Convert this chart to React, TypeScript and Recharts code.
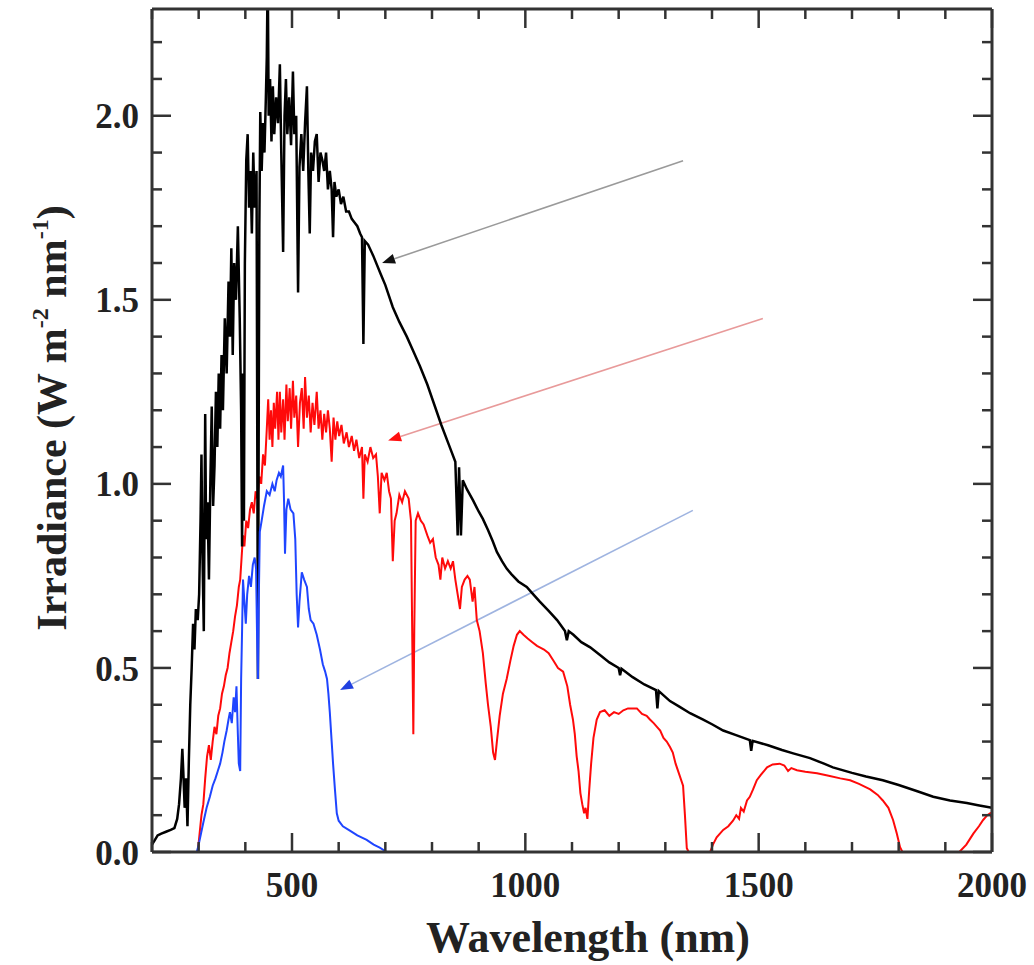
import { LineChart, Line, XAxis, YAxis, ReferenceLine } from "recharts";

// wavelength (nm), irradiance (W m-2 nm-1)
const black: [number, number][] = [
  [200, 0.02], [205, 0.03], [212, 0.045], [220, 0.05], [230, 0.055], [240, 0.06], [248, 0.065],
  [254, 0.09], [258, 0.13], [262, 0.2], [265, 0.28], [267, 0.22], [270, 0.12], [273, 0.2],
  [276, 0.07], [279, 0.25], [282, 0.4], [285, 0.5], [288, 0.62], [291, 0.55], [294, 0.66],
  [298, 0.63], [301, 0.7], [304, 0.9], [306, 1.08], [308, 0.82], [311, 0.6], [314, 1.19],
  [316, 0.85], [319, 0.95], [322, 0.74], [325, 1.0], [328, 1.21], [331, 0.94], [334, 1.05],
  [337, 1.25], [340, 1.1], [343, 1.3], [346, 1.15], [349, 1.35], [352, 1.2], [356, 1.45],
  [360, 1.3], [364, 1.55], [367, 1.4], [370, 1.64], [373, 1.35], [376, 1.6], [380, 1.5],
  [384, 1.7], [388, 1.45], [391, 1.2], [393, 0.83], [395, 1.3], [397, 0.9], [399, 1.6],
  [402, 1.88], [405, 1.95], [408, 1.75], [411, 1.85], [414, 1.68], [417, 1.9], [420, 1.75],
  [424, 1.85], [427, 0.47], [430, 1.7], [432, 2.01], [435, 1.85], [438, 1.98], [441, 1.9],
  [444, 2.05], [446, 2.16], [448, 2.4], [450, 2.0], [453, 2.1], [456, 1.93], [459, 2.08],
  [462, 1.95], [466, 2.05], [470, 1.98], [474, 2.14], [477, 1.9], [481, 1.63], [484, 2.0],
  [487, 2.1], [490, 1.95], [494, 2.05], [498, 1.92], [502, 2.12], [505, 1.95], [509, 2.0],
  [513, 1.52], [516, 1.86], [520, 1.95], [524, 1.85], [528, 1.98], [532, 2.08], [535, 1.85],
  [538, 1.68], [541, 1.9], [545, 1.85], [549, 1.93], [553, 1.95], [557, 1.82], [561, 1.9],
  [565, 1.88], [569, 1.85], [573, 1.9], [577, 1.8], [581, 1.85], [585, 1.8], [588, 1.67],
  [591, 1.82], [595, 1.78], [600, 1.8], [605, 1.76], [610, 1.78], [616, 1.74], [622, 1.74],
  [628, 1.72], [634, 1.71], [640, 1.7], [646, 1.68], [650, 1.67], [653, 1.38], [656, 1.66],
  [663, 1.65], [674, 1.62], [690, 1.57], [700, 1.54], [716, 1.48], [730, 1.44], [746, 1.4],
  [760, 1.36], [774, 1.32], [790, 1.27], [805, 1.215], [820, 1.16], [835, 1.11], [850, 1.06],
  [855, 0.86], [858, 1.045], [862, 0.86], [866, 1.01], [875, 0.985], [888, 0.955], [900, 0.925],
  [909, 0.905], [920, 0.875], [930, 0.845], [939, 0.815], [950, 0.79], [960, 0.77], [970, 0.755],
  [985, 0.735], [1003, 0.72], [1017, 0.7], [1031, 0.68], [1050, 0.655], [1068, 0.63],
  [1085, 0.6], [1089, 0.575], [1093, 0.6], [1103, 0.59], [1120, 0.57], [1139, 0.556],
  [1160, 0.535], [1180, 0.515], [1200, 0.5], [1203, 0.48], [1206, 0.498], [1230, 0.475],
  [1255, 0.455], [1280, 0.44], [1283, 0.39], [1286, 0.437], [1310, 0.41], [1330, 0.395],
  [1353, 0.377], [1380, 0.36], [1400, 0.347], [1424, 0.33], [1450, 0.318], [1481, 0.304],
  [1484, 0.275], [1487, 0.302], [1520, 0.29], [1550, 0.277], [1574, 0.268], [1610, 0.255],
  [1640, 0.24], [1659, 0.23], [1700, 0.215], [1730, 0.205], [1766, 0.195], [1800, 0.182],
  [1840, 0.165], [1874, 0.15], [1910, 0.14], [1946, 0.133], [1970, 0.127], [2000, 0.12],
];

const red: [number, number][] = [
  [298, 0], [302, 0.05], [306, 0.1], [310, 0.13], [314, 0.2], [318, 0.26], [322, 0.29],
  [326, 0.25], [330, 0.3], [334, 0.34], [338, 0.32], [342, 0.37], [346, 0.39], [350, 0.43],
  [354, 0.45], [358, 0.48], [362, 0.5], [366, 0.54], [370, 0.57], [374, 0.6], [378, 0.64],
  [382, 0.67], [386, 0.72], [389, 0.74], [392, 0.8], [395, 0.86], [398, 0.83], [402, 0.9],
  [406, 0.88], [410, 0.93], [414, 0.95], [418, 0.92], [422, 0.98], [426, 0.96], [430, 1.02],
  [434, 1.0], [438, 1.08], [442, 1.05], [446, 1.15], [449, 1.23], [452, 1.12], [455, 1.2],
  [458, 1.1], [461, 1.22], [464, 1.15], [468, 1.25], [471, 1.12], [474, 1.25], [477, 1.14],
  [481, 1.23], [484, 1.12], [488, 1.27], [491, 1.17], [495, 1.26], [498, 1.15], [502, 1.28],
  [505, 1.18], [509, 1.24], [513, 1.1], [517, 1.22], [521, 1.26], [525, 1.15], [528, 1.29],
  [532, 1.18], [536, 1.24], [540, 1.14], [544, 1.22], [548, 1.16], [553, 1.25], [557, 1.15],
  [561, 1.2], [565, 1.12], [569, 1.19], [573, 1.14], [577, 1.2], [581, 1.15], [585, 1.06],
  [589, 1.18], [593, 1.12], [597, 1.17], [601, 1.13], [606, 1.16], [611, 1.11], [617, 1.14],
  [622, 1.1], [628, 1.13], [633, 1.09], [638, 1.12], [644, 1.07], [650, 1.1], [653, 0.96],
  [656, 1.08], [662, 1.06], [668, 1.1], [674, 1.07], [680, 1.08], [684, 1.02], [688, 0.92],
  [692, 1.03], [698, 1.01], [703, 1.03], [708, 0.98], [712, 0.96], [716, 0.79], [720, 0.9],
  [724, 0.92], [730, 0.97], [736, 0.95], [742, 0.98], [750, 0.96], [755, 0.9], [758, 0.55],
  [760, 0.32], [762, 0.6], [765, 0.9], [770, 0.92], [776, 0.9], [782, 0.89], [790, 0.86],
  [796, 0.84], [802, 0.85], [808, 0.8], [814, 0.78], [818, 0.74], [822, 0.8], [828, 0.77],
  [834, 0.79], [840, 0.77], [845, 0.79], [850, 0.74], [855, 0.7], [860, 0.66], [864, 0.72],
  [870, 0.74], [876, 0.75], [881, 0.74], [887, 0.68], [891, 0.72], [896, 0.63], [902, 0.6],
  [909, 0.54], [915, 0.46], [920, 0.4], [926, 0.34], [931, 0.27], [935, 0.25], [939, 0.3],
  [945, 0.37], [952, 0.43], [960, 0.47], [968, 0.52], [975, 0.56], [982, 0.59], [988, 0.6],
  [996, 0.59], [1005, 0.58], [1015, 0.57], [1025, 0.56], [1031, 0.556], [1040, 0.55],
  [1050, 0.54], [1060, 0.52], [1070, 0.5], [1081, 0.49], [1090, 0.45], [1096, 0.4],
  [1102, 0.36], [1106, 0.32], [1110, 0.26], [1114, 0.22], [1118, 0.16], [1122, 0.13],
  [1126, 0.105], [1129, 0.12], [1133, 0.09], [1137, 0.17], [1141, 0.24], [1146, 0.31],
  [1153, 0.36], [1160, 0.38], [1170, 0.385], [1180, 0.37], [1190, 0.38], [1200, 0.375],
  [1210, 0.385], [1220, 0.39], [1230, 0.39], [1239, 0.39], [1250, 0.375], [1260, 0.37],
  [1267, 0.36], [1275, 0.35], [1282, 0.34], [1289, 0.33], [1296, 0.31], [1303, 0.3],
  [1310, 0.285], [1316, 0.27], [1322, 0.24], [1330, 0.21], [1338, 0.18], [1342, 0.1],
  [1346, 0.01], [1350, 0], [1396, 0], [1402, 0.02], [1410, 0.04], [1424, 0.06], [1435, 0.07],
  [1445, 0.085], [1452, 0.1], [1458, 0.09], [1462, 0.12], [1468, 0.11], [1475, 0.14],
  [1481, 0.15], [1488, 0.17], [1496, 0.195], [1505, 0.21], [1518, 0.23], [1530, 0.238],
  [1545, 0.24], [1555, 0.235], [1563, 0.22], [1570, 0.228], [1582, 0.222], [1600, 0.218],
  [1625, 0.214], [1650, 0.207], [1675, 0.2], [1696, 0.195], [1715, 0.185], [1739, 0.17],
  [1755, 0.155], [1766, 0.14], [1778, 0.12], [1788, 0.087], [1796, 0.05], [1803, 0.013],
  [1808, 0], [1930, 0], [1945, 0.02], [1960, 0.05], [1972, 0.07], [1981, 0.087], [1990, 0.1],
  [1996, 0.105], [2000, 0.09],
];

const blue: [number, number][] = [
  [296, 0], [300, 0.02], [305, 0.05], [310, 0.08], [317, 0.12], [324, 0.15], [330, 0.18],
  [336, 0.2], [341, 0.22], [346, 0.24], [351, 0.27], [355, 0.3], [360, 0.33], [364, 0.36],
  [367, 0.38], [371, 0.35], [375, 0.42], [378, 0.38], [381, 0.45], [384, 0.32], [386, 0.24],
  [389, 0.22], [391, 0.47], [393, 0.6], [395, 0.74], [398, 0.68], [401, 0.62], [404, 0.7],
  [408, 0.75], [412, 0.72], [416, 0.78], [420, 0.8], [423, 0.77], [425, 0.6], [427, 0.47],
  [429, 0.7], [431, 0.87], [435, 0.9], [440, 0.94], [446, 0.98], [452, 0.97], [458, 1.0],
  [463, 0.98], [467, 1.01], [472, 1.03], [476, 1.02], [481, 1.05], [483, 0.95], [485, 0.81],
  [488, 0.93], [492, 0.96], [497, 0.93], [503, 0.92], [507, 0.85], [510, 0.7], [513, 0.61],
  [516, 0.68], [521, 0.76], [526, 0.74], [532, 0.72], [536, 0.66], [540, 0.63], [546, 0.62],
  [553, 0.59], [560, 0.55], [566, 0.51], [571, 0.49], [575, 0.47], [578, 0.43], [581, 0.38],
  [585, 0.3], [588, 0.24], [592, 0.17], [596, 0.105], [600, 0.085], [609, 0.07], [624, 0.058],
  [640, 0.045], [660, 0.033], [675, 0.02], [688, 0.012], [703, 0],
];

// annotation arrows: [from wavelength, from value, to wavelength, to value]
const arrows: [number, number, number, number][] = [
  [1338, 1.878, 693, 1.6],
  [1509, 1.449, 706, 1.118],
  [1359, 0.928, 603, 0.44],
];

const xTicks = [200, 300, 400, 500, 600, 700, 800, 900, 1000, 1100, 1200, 1300, 1400, 1500, 1600, 1700, 1800, 1900, 2000];
const xMajor = [500, 1000, 1500, 2000];
const yTicks = [0, 0.1, 0.2, 0.3, 0.4, 0.5, 0.6, 0.7, 0.8, 0.9, 1.0, 1.1, 1.2, 1.3, 1.4, 1.5, 1.6, 1.7, 1.8, 1.9, 2.0, 2.1, 2.2];
const yMajor = [0, 0.5, 1.0, 1.5, 2.0];

const toRows = (d: [number, number][]) => d.map(([w, v]) => ({ w, v }));

const FONT = "'Liberation Serif', 'Times New Roman', serif";
const AXIS = "#333";

const isYMajor = (v: number) => yMajor.some((m) => Math.abs(m - v) < 1e-6);

const BottomTick = (p: any) => {
  const major = xMajor.includes(p.payload.value);
  return (
    <g>
      <line x1={p.x} x2={p.x} y1={p.y} y2={p.y - (major ? 19 : 10)} stroke={AXIS} strokeWidth={2.5} />
      {major && (
        <text x={p.x} y={p.y + 45} textAnchor="middle" fontFamily={FONT} fontWeight="bold" fontSize={35} fill="#222">
          {p.payload.value}
        </text>
      )}
    </g>
  );
};

const TopTick = (p: any) => {
  const major = xMajor.includes(p.payload.value);
  return <line x1={p.x} x2={p.x} y1={p.y} y2={p.y + (major ? 19 : 10)} stroke={AXIS} strokeWidth={2.5} />;
};

const LeftTick = (p: any) => {
  const major = isYMajor(p.payload.value);
  return (
    <g>
      <line x1={p.x} x2={p.x + (major ? 19 : 10)} y1={p.y} y2={p.y} stroke={AXIS} strokeWidth={2.5} />
      {major && (
        <text x={p.x - 13} y={p.y} dy="0.36em" textAnchor="end" fontFamily={FONT} fontWeight="bold" fontSize={35} fill="#222">
          {p.payload.value.toFixed(1)}
        </text>
      )}
    </g>
  );
};

const RightTick = (p: any) => {
  const major = isYMajor(p.payload.value);
  return <line x1={p.x} x2={p.x - (major ? 19 : 10)} y1={p.y} y2={p.y} stroke={AXIS} strokeWidth={2.5} />;
};

const XTitle = (p: any) => {
  const vb = p.viewBox;
  return (
    <text x={vb.x + vb.width / 2 + 16} y={952} textAnchor="middle" fontFamily={FONT} fontWeight="bold" fontSize={44} fill="#222">
      Wavelength (nm)
    </text>
  );
};

const YTitle = () => {
  const cx = 66;
  const cy = 418;
  return (
    <text x={cx} y={cy} transform={`rotate(-90, ${cx}, ${cy})`} textAnchor="middle" fontFamily={FONT} fontWeight="bold" fontSize={42} fill="#222">
      Irradiance (W m
      <tspan dy={-18} fontSize={24}>-2</tspan>
      <tspan dy={18}> nm</tspan>
      <tspan dy={-18} fontSize={24}>-1</tspan>
      <tspan dy={18}>)</tspan>
    </text>
  );
};

const arrowShape = (lineColor: string, headColor: string) => (p: any) => {
  const { x1, y1, x2, y2 } = p;
  const a = Math.atan2(y2 - y1, x2 - x1);
  const L = 13;
  const W = 5;
  const bx = x2 - L * Math.cos(a);
  const by = y2 - L * Math.sin(a);
  const pts = `${x2},${y2} ${bx + W * Math.sin(a)},${by - W * Math.cos(a)} ${bx - W * Math.sin(a)},${by + W * Math.cos(a)}`;
  return (
    <g>
      <line x1={x1} y1={y1} x2={bx} y2={by} stroke={lineColor} strokeWidth={1.6} />
      <polygon points={pts} fill={headColor} />
    </g>
  );
};

const arrowColors = [
  ["#9a9a9a", "#111"],
  ["#e89a9a", "#ff1010"],
  ["#9fb4e0", "#2040e0"],
];

export default function App() {
  return (
    <div style={{ position: "absolute", left: 0, top: 0, background: "#fff" }}>
      <LineChart width={1034} height={965} margin={{ top: 8, right: 41, bottom: 53, left: 52 }}>
        <XAxis
          type="number"
          dataKey="w"
          domain={[200, 2000]}
          ticks={xTicks}
          interval={0}
          allowDataOverflow
          height={60}
          tickSize={0}
          tickMargin={0}
          tick={BottomTick}
          tickLine={false}
          axisLine={{ stroke: AXIS, strokeWidth: 3 }}
          label={XTitle}
        />
        <XAxis
          xAxisId="top"
          orientation="top"
          type="number"
          dataKey="w"
          domain={[200, 2000]}
          ticks={xTicks}
          interval={0}
          allowDataOverflow
          height={1}
          tickSize={0}
          tickMargin={0}
          tick={TopTick}
          tickLine={false}
          axisLine={{ stroke: AXIS, strokeWidth: 3 }}
        />
        <YAxis
          type="number"
          domain={[0, 2.29]}
          ticks={yTicks}
          interval={0}
          allowDataOverflow
          width={100}
          tickSize={0}
          tickMargin={0}
          tick={LeftTick}
          tickLine={false}
          axisLine={{ stroke: AXIS, strokeWidth: 3 }}
          label={YTitle}
        />
        <YAxis
          yAxisId="right"
          orientation="right"
          type="number"
          domain={[0, 2.29]}
          ticks={yTicks}
          interval={0}
          allowDataOverflow
          width={1}
          tickSize={0}
          tickMargin={0}
          tick={RightTick}
          tickLine={false}
          axisLine={{ stroke: AXIS, strokeWidth: 3 }}
        />
        {arrows.map(([w1, v1, w2, v2], i) => (
          <ReferenceLine
            key={i}
            segment={[{ x: w1, y: v1 }, { x: w2, y: v2 }]}
            shape={arrowShape(arrowColors[i][0], arrowColors[i][1])}
          />
        ))}
        <Line data={toRows(red)} dataKey="v" type="linear" stroke="#ff0a0a" strokeWidth={2} dot={false} isAnimationActive={false} />
        <Line data={toRows(black)} dataKey="v" type="linear" stroke="#000" strokeWidth={2.5} dot={false} isAnimationActive={false} />
        <Line data={toRows(blue)} dataKey="v" type="linear" stroke="#1f45ff" strokeWidth={2} dot={false} isAnimationActive={false} />
      </LineChart>
    </div>
  );
}
